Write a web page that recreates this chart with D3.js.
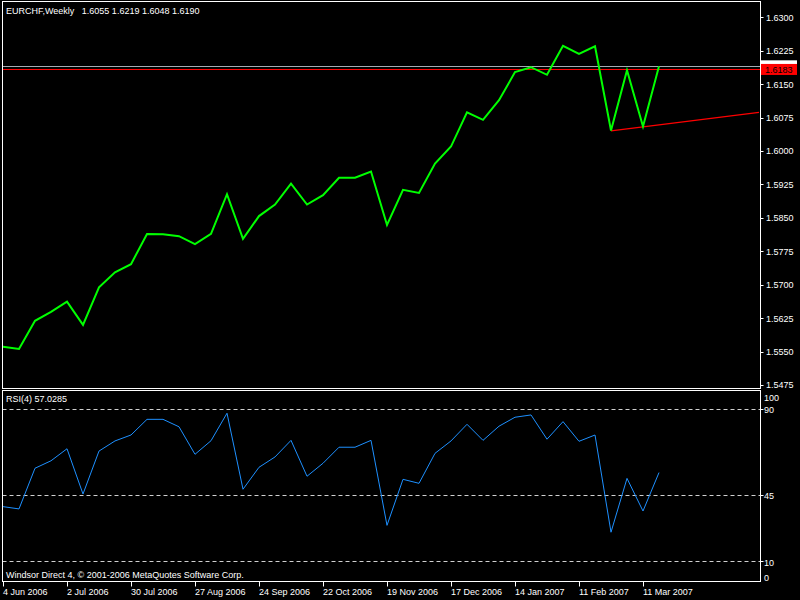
<!DOCTYPE html>
<html>
<head>
<meta charset="utf-8">
<script src="https://cdn.jsdelivr.net/npm/d3@7"></script>
<style>
  html, body { margin: 0; padding: 0; background: #000; }
  svg { display: block; }
  text { font-family: "Liberation Sans", Arial, sans-serif; font-size: 9px; fill: #fff; white-space: pre; }
</style>
</head>
<body>
<svg id="chart" width="800" height="600"></svg>
<script>
// ---------- data ----------
const symbolTitle = "EURCHF,Weekly   1.6055 1.6219 1.6048 1.6190";
const rsiTitle = "RSI(4) 57.0285";
const footer = "Windsor Direct 4, \u00A9 2001-2006 MetaQuotes Software Corp.";

// weekly closes, first bar = week of 4 Jun 2006
const closes = [
  1.5561, 1.5556, 1.5619, 1.5639, 1.5662, 1.5610, 1.5694, 1.5728, 1.5746, 1.5814,
  1.5813, 1.5809, 1.5791, 1.5814, 1.5903, 1.5803, 1.5854, 1.5880, 1.5927, 1.5880,
  1.5901, 1.5940, 1.5940, 1.5954, 1.5834, 1.5913, 1.5906, 1.5972, 1.6010, 1.6087,
  1.6070, 1.6114, 1.6177, 1.6188, 1.6171, 1.6236, 1.6218, 1.6235, 1.6046, 1.6181,
  1.6055, 1.6190
];
const rsiValues = [
  39.2, 38.0, 59.3, 63.2, 69.5, 45.8, 68.3, 73.6, 76.7, 84.9,
  84.9, 81.0, 66.6, 73.7, 88.1, 48.3, 59.8, 65.2, 73.9, 55.1,
  61.9, 70.3, 70.3, 73.9, 29.4, 53.5, 51.4, 67.1, 73.6, 82.3,
  73.9, 81.3, 86.0, 87.2, 74.5, 83.7, 73.4, 76.7, 25.8, 54.0,
  36.9, 57.03
];
const priceTickLabels = ["1.5475","1.5550","1.5625","1.5700","1.5775","1.5850",
                         "1.5925","1.6000","1.6075","1.6150","1.6225","1.6300"];
const dateLabels = ["4 Jun 2006","2 Jul 2006","30 Jul 2006","27 Aug 2006","24 Sep 2006",
                    "22 Oct 2006","19 Nov 2006","17 Dec 2006","14 Jan 2007","11 Feb 2007","11 Mar 2007"];
const dateTickIndex = [0,4,8,12,16,20,24,28,32,36,40];
const rsiLevels = [90, 45, 10, 0];
const rsiAxisLabels = [100, 90, 45, 10, 0];
const bidPrice = 1.6190;
const askPrice = 1.6183;
const trendAnchors = [[38, 1.6045], [40, 1.6054]];

// ---------- layout ----------
const svg = d3.select("#chart");
const left = 2.5, right = 760.5;
const mainTop = 1.5, mainBottom = 388.5;
const rsiTop = 390.5, rsiBottom = 581.5;

const x = d3.scaleLinear().domain([0, 47.25]).range([3, 759]);
const y = d3.scaleLinear().domain([1.5475, 1.6300]).range([385, 17.3]);
const yr = d3.scaleLinear().domain([0, 100]).range([rsiBottom, rsiTop]);

svg.append("rect").attr("width", 800).attr("height", 600).attr("fill", "#000");

const defs = svg.append("defs");
defs.append("clipPath").attr("id", "clipMain").append("rect")
  .attr("x", left).attr("y", mainTop).attr("width", right - left).attr("height", mainBottom - mainTop);
defs.append("clipPath").attr("id", "clipRsi").append("rect")
  .attr("x", left).attr("y", rsiTop).attr("width", right - left).attr("height", rsiBottom - rsiTop);

// ---------- main panel ----------
const mainG = svg.append("g").attr("clip-path", "url(#clipMain)");

// bid (grey) and ask (red) lines
mainG.append("line").attr("x1", left).attr("x2", right)
  .attr("y1", Math.round(y(bidPrice)) + 0.5).attr("y2", Math.round(y(bidPrice)) + 0.5)
  .attr("stroke", "#a4aab2").attr("stroke-width", 1);
mainG.append("line").attr("x1", left).attr("x2", right)
  .attr("y1", Math.round(y(askPrice)) + 0.5).attr("y2", Math.round(y(askPrice)) + 0.5)
  .attr("stroke", "#ff0000").attr("stroke-width", 1);

// trend line
const slope = (trendAnchors[1][1] - trendAnchors[0][1]) / (trendAnchors[1][0] - trendAnchors[0][0]);
const tEnd = x.domain()[1];
mainG.append("line")
  .attr("x1", x(trendAnchors[0][0])).attr("y1", y(trendAnchors[0][1]))
  .attr("x2", x(tEnd)).attr("y2", y(trendAnchors[0][1] + slope * (tEnd - trendAnchors[0][0])))
  .attr("stroke", "#ff0000").attr("stroke-width", 1.2);

// price line
mainG.append("path")
  .datum(closes)
  .attr("d", d3.line().x((d, i) => x(i)).y(d => y(d)))
  .attr("fill", "none").attr("stroke", "#00ff00").attr("stroke-width", 2)
  .attr("stroke-linejoin", "miter");

// frame
svg.append("rect").attr("x", left).attr("y", mainTop)
  .attr("width", right - left).attr("height", mainBottom - mainTop)
  .attr("fill", "none").attr("stroke", "#fff").attr("stroke-width", 1);

// price axis
const pAxis = svg.append("g");
priceTickLabels.forEach(lbl => {
  const v = +lbl;
  const py = y(v);
  pAxis.append("line").attr("x1", right).attr("x2", right + 3)
    .attr("y1", Math.round(py) + 0.5).attr("y2", Math.round(py) + 0.5)
    .attr("stroke", "#fff");
  pAxis.append("text").attr("x", 766).attr("y", py + 3.4).text(lbl);
});

// price labels (bid behind, ask in front)
const bidY = y(bidPrice), askY = y(askPrice);
pAxis.append("rect").attr("x", 761).attr("y", bidY - 6).attr("width", 36).attr("height", 11).attr("fill", "#fff");
pAxis.append("text").attr("x", 765).attr("y", bidY + 3.4).style("fill", "#000").text(bidPrice.toFixed(4));
pAxis.append("rect").attr("x", 761).attr("y", askY - 5.5).attr("width", 36).attr("height", 11).attr("fill", "#ff0000");
pAxis.append("text").attr("x", 765).attr("y", askY + 3.6).style("fill", "#000").text(askPrice.toFixed(4));

svg.append("text").attr("x", 6).attr("y", 14).text(symbolTitle);

// ---------- RSI panel ----------
const rsiG = svg.append("g").attr("clip-path", "url(#clipRsi)");
rsiLevels.forEach(l => {
  const ly = Math.round(yr(l)) - 0.5;
  rsiG.append("line").attr("x1", left).attr("x2", right).attr("y1", ly).attr("y2", ly)
    .attr("stroke", "#d0d0d0").attr("stroke-width", 1).attr("stroke-dasharray", "4,3");
});
rsiG.append("path")
  .datum(rsiValues)
  .attr("d", d3.line().x((d, i) => x(i)).y(d => yr(d)))
  .attr("fill", "none").attr("stroke", "#1e90ff").attr("stroke-width", 1);

svg.append("rect").attr("x", left).attr("y", rsiTop)
  .attr("width", right - left).attr("height", rsiBottom - rsiTop)
  .attr("fill", "none").attr("stroke", "#fff").attr("stroke-width", 1);

const rAxis = svg.append("g");
rsiAxisLabels.forEach(l => {
  let ly = yr(l) + 3.4;
  if (l === 100) ly = rsiTop + 10;
  if (l === 0) ly = rsiBottom - 1;
  if (l !== 100 && l !== 0) {
    rAxis.append("line").attr("x1", right).attr("x2", right + 3)
      .attr("y1", Math.round(yr(l)) - 0.5).attr("y2", Math.round(yr(l)) - 0.5).attr("stroke", "#fff");
  }
  rAxis.append("text").attr("x", 764).attr("y", ly).text(l);
});

svg.append("text").attr("x", 6).attr("y", 402).text(rsiTitle);
svg.append("text").attr("x", 6).attr("y", 578).text(footer);

// ---------- date axis ----------
const dAxis = svg.append("g");
dateTickIndex.forEach((ti, k) => {
  const tx = Math.round(x(ti)) + 0.5;
  dAxis.append("line").attr("x1", tx).attr("x2", tx).attr("y1", rsiBottom).attr("y2", rsiBottom + 5)
    .attr("stroke", "#fff");
  dAxis.append("text").attr("x", tx - 0.5).attr("y", 595).text(dateLabels[k]);
});
</script>
</body>
</html>
